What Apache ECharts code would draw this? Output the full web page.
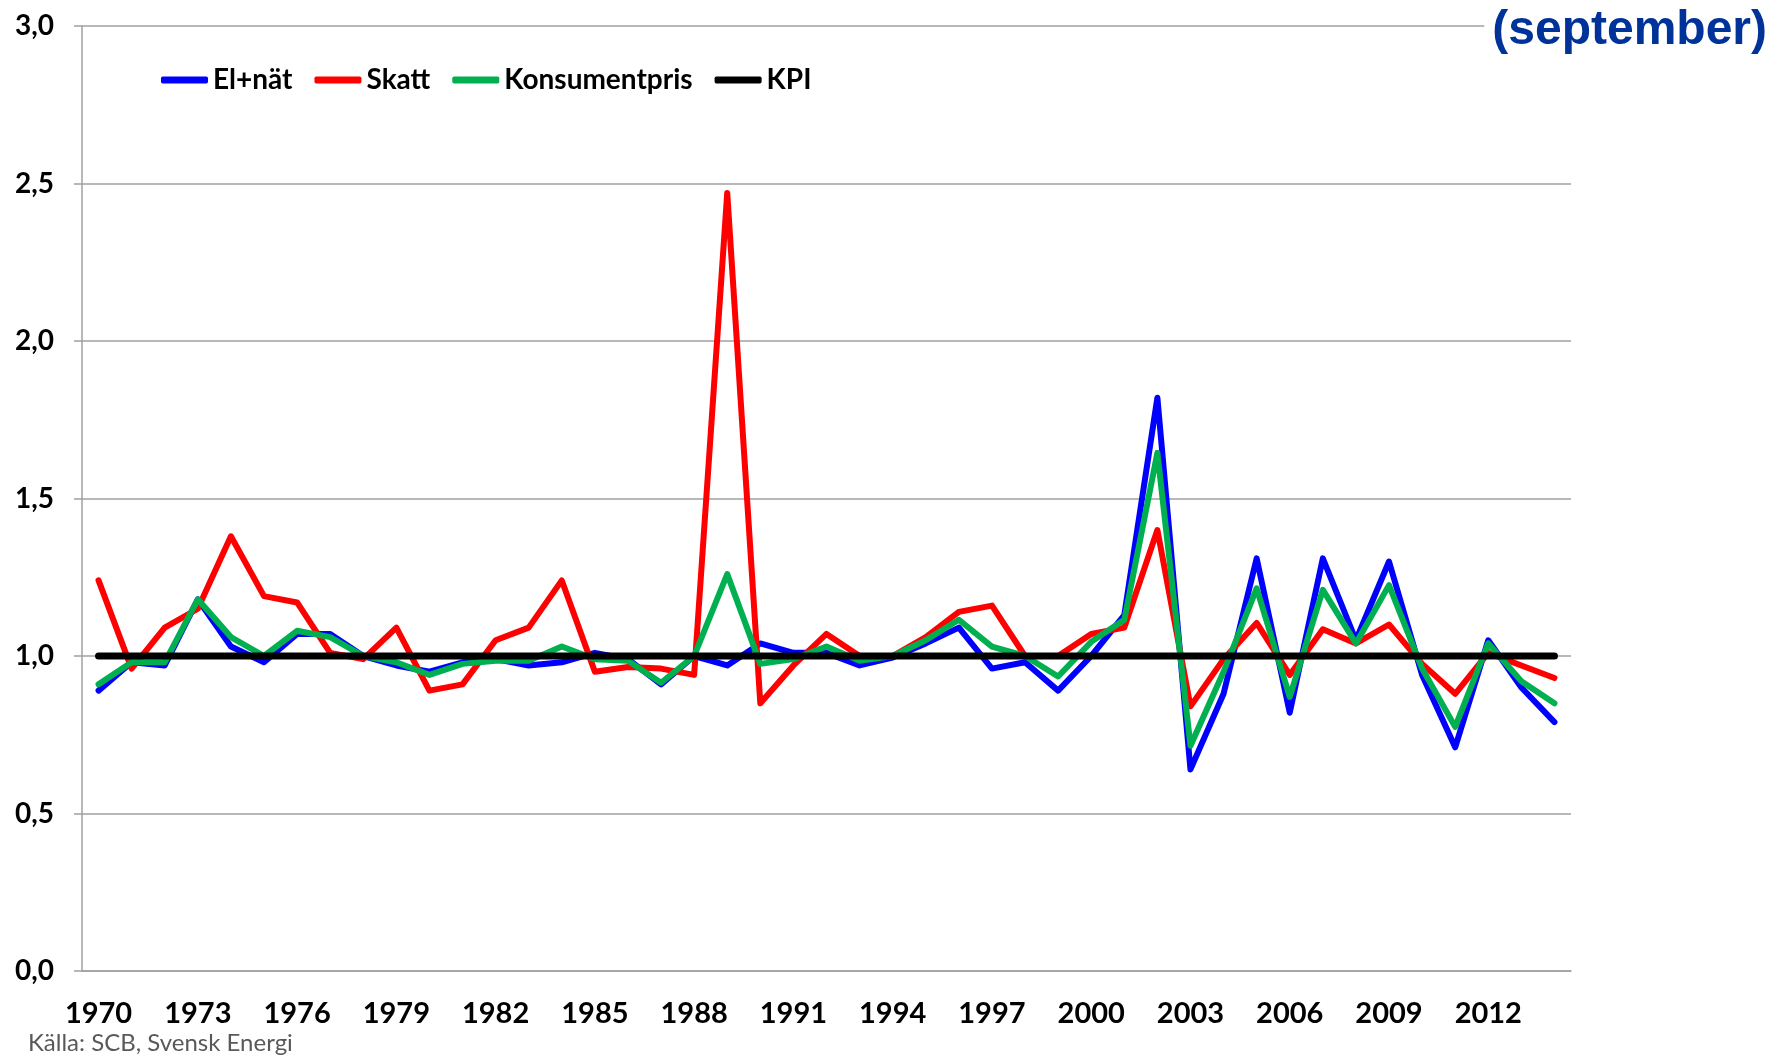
<!DOCTYPE html>
<html>
<head>
<meta charset="utf-8">
<script src="https://cdn.jsdelivr.net/npm/echarts@6/dist/echarts.min.js"></script>
<style>
  html, body { margin: 0; padding: 0; background: #fff; }
  #myChart { width: 1785px; height: 1057px; }
</style>
</head>
<body>
<div id="myChart"></div>
<script>
// years 1970..2014
var years = ['1970', '1971', '1972', '1973', '1974', '1975', '1976', '1977', '1978', '1979',
  '1980', '1981', '1982', '1983', '1984', '1985', '1986', '1987', '1988', '1989',
  '1990', '1991', '1992', '1993', '1994', '1995', '1996', '1997', '1998', '1999',
  '2000', '2001', '2002', '2003', '2004', '2005', '2006', '2007', '2008', '2009',
  '2010', '2011', '2012', '2013', '2014']

var elNat = [0.89, 0.98, 0.97, 1.18, 1.03, 0.98, 1.07, 1.07, 1.0, 0.97,
  0.95, 0.98, 0.99, 0.97, 0.98, 1.01, 0.99, 0.91, 1.0, 0.97,
  1.04, 1.01, 1.01, 0.97, 0.995, 1.04, 1.09, 0.96, 0.98, 0.89,
  1.0, 1.13, 1.82, 0.64, 0.88, 1.31, 0.82, 1.31, 1.05, 1.30,
  0.94, 0.71, 1.05, 0.90, 0.79]

var skatt = [1.24, 0.96, 1.09, 1.15, 1.38, 1.19, 1.17, 1.01, 0.99, 1.09,
  0.89, 0.91, 1.05, 1.09, 1.24, 0.95, 0.965, 0.96, 0.94, 2.47,
  0.85, 0.97, 1.07, 1.0, 1.0, 1.06, 1.14, 1.16, 1.0, 1.0,
  1.07, 1.09, 1.40, 0.84, 0.99, 1.105, 0.94, 1.085, 1.04, 1.10,
  0.975, 0.88, 1.01, 0.97, 0.93]

var konsumentpris = [0.91, 0.98, 0.98, 1.18, 1.06, 1.0, 1.08, 1.06, 1.0, 0.98,
  0.94, 0.975, 0.985, 0.985, 1.03, 0.99, 0.985, 0.915, 1.0, 1.26,
  0.975, 0.99, 1.03, 0.985, 1.0, 1.05, 1.115, 1.03, 1.0, 0.935,
  1.045, 1.115, 1.645, 0.715, 0.95, 1.215, 0.87, 1.21, 1.04, 1.225,
  0.96, 0.775, 1.04, 0.92, 0.85]

var kpi = [1, 1, 1, 1, 1, 1, 1, 1, 1, 1,
  1, 1, 1, 1, 1, 1, 1, 1, 1, 1,
  1, 1, 1, 1, 1, 1, 1, 1, 1, 1,
  1, 1, 1, 1, 1, 1, 1, 1, 1, 1,
  1, 1, 1, 1, 1]

var seriesNames = ['El+nät', 'Skatt', 'Konsumentpris', 'KPI']
var seriesColors = ['#0000ff', '#ff0000', '#00b050', '#000000']

var labelFont = 'Lato'

function lineSeries(name, data, color, width) {
  return {
    name: name,
    type: 'line',
    data: data,
    showSymbol: false,
    symbol: 'none',
    color: color,
    lineStyle: { color: color, width: width, cap: 'round', join: 'round' },
    emphasis: { disabled: true }
  }
}

var myChart = echarts.init(document.getElementById('myChart'))
myChart.setOption({
  animation: false,
  backgroundColor: '#fff',
  title: [
    {
      text: '(september)',
      right: 12,
      top: 5,
      backgroundColor: '#fff',
      padding: [2, 6, 2, 8],
      textStyle: { fontFamily: 'Liberation Sans', fontWeight: 'bold', fontSize: 48, color: '#003399' }
    },
    {
      text: 'Källa: SCB, Svensk Energi',
      left: 28,
      top: 1031,
      padding: 0,
      textStyle: { fontFamily: labelFont, fontWeight: 'normal', fontSize: 24, color: '#595959' }
    }
  ],
  legend: {
    data: seriesNames,
    left: 156,
    top: 61,
    itemWidth: 47,
    itemHeight: 7,
    itemGap: 22,
    icon: 'roundRect',
    selectedMode: false,
    textStyle: { fontFamily: labelFont, fontWeight: 'bold', fontSize: 28, color: '#000' }
  },
  grid: { left: 82, right: 214, top: 26, bottom: 86, containLabel: false },
  xAxis: {
    type: 'category',
    data: years,
    boundaryGap: true,
    axisLine: { lineStyle: { color: '#a0a0a0', width: 1.5 } },
    axisTick: { interval: 2, length: 9, lineStyle: { color: '#a0a0a0', width: 1.5 } },
    axisLabel: { interval: 2, margin: 28, fontFamily: labelFont, fontWeight: 'bold', fontSize: 29, color: '#000' },
    splitLine: { show: false }
  },
  yAxis: {
    type: 'value',
    min: 0,
    max: 3,
    interval: 0.5,
    axisLine: { show: true, lineStyle: { color: '#a0a0a0', width: 1.5 } },
    axisTick: { show: true, length: 8, lineStyle: { color: '#a0a0a0', width: 1.5 } },
    axisLabel: {
      margin: 28,
      fontFamily: labelFont, fontWeight: 'bold', fontSize: 28, color: '#000',
      formatter: function (v) { return v.toFixed(1).replace('.', ',') }
    },
    splitLine: { lineStyle: { color: '#a0a0a0', width: 1.5 } }
  },
  series: [
    lineSeries(seriesNames[0], elNat, seriesColors[0], 6),
    lineSeries(seriesNames[1], skatt, seriesColors[1], 6),
    lineSeries(seriesNames[2], konsumentpris, seriesColors[2], 6),
    lineSeries(seriesNames[3], kpi, seriesColors[3], 7)
  ]
})
</script>
</body>
</html>
